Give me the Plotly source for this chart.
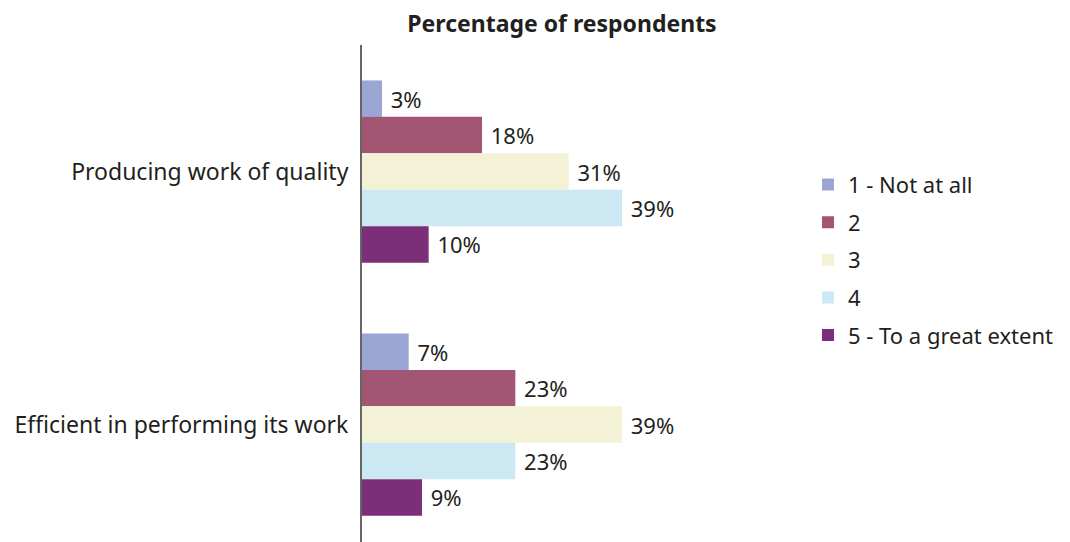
import plotly.graph_objects as go

categories = ["Producing work of quality", "Efficient in performing its work"]
series_names = ["1 - Not at all", "2", "3", "4", "5 - To a great extent"]
values = {
    "1 - Not at all": [3, 7],
    "2": [18, 23],
    "3": [31, 39],
    "4": [39, 23],
    "5 - To a great extent": [10, 9],
}
colors = ["#9BA6D4", "#A35574", "#F3F2D6", "#CBE8F3", "#7B2F78"]

FONT = "Noto Sans"
TEXT = "#231F20"
SIZE = 23

fig = go.Figure()
for i, name in enumerate(series_names):
    vals = values[name]
    fig.add_trace(go.Bar(
        name=name,
        y=categories,
        x=vals,
        orientation="h",
        marker=dict(color=colors[i], line=dict(width=0)),
        text=[f"\u00a0{v}%" for v in vals],
        textposition="outside",
        constraintext="none",
        textfont=dict(family=FONT, size=SIZE - 1, color=TEXT),
        cliponaxis=False,
        legendgroup=name,
    ))

fig.update_layout(
    width=1070,
    height=542,
    margin=dict(l=362, r=308, t=45, b=0),
    paper_bgcolor="white",
    plot_bgcolor="white",
    barmode="group",
    bargap=0.28,
    bargroupgap=0,
    font=dict(family=FONT, size=SIZE, color=TEXT),
    title=dict(
        text="<b>Percentage of respondents</b>",
        x=0.5, xref="paper", xanchor="center",
        y=1, yref="container", yanchor="top", pad=dict(t=16),
        font=dict(family=FONT, size=SIZE, color=TEXT),
    ),
    showlegend=True,
    legend=dict(
        x=1.115, xanchor="left", y=0.761, yanchor="top",
        traceorder="grouped",
        tracegroupgap=6,
        font=dict(family=FONT, size=SIZE - 1, color=TEXT),
        itemsizing="constant",
        bgcolor="rgba(0,0,0,0)",
    ),
    xaxis=dict(
        range=[0, 60],
        visible=False,
        showgrid=False,
        zeroline=False,
    ),
    yaxis=dict(
        range=[1.464, -0.5],
        showline=True,
        linecolor="#666666",
        linewidth=2,
        ticks="",
        ticklabelstandoff=7,
        showgrid=False,
        zeroline=False,
        tickfont=dict(family=FONT, size=SIZE, color=TEXT),
    ),
)

fig.write_html("out.html")
